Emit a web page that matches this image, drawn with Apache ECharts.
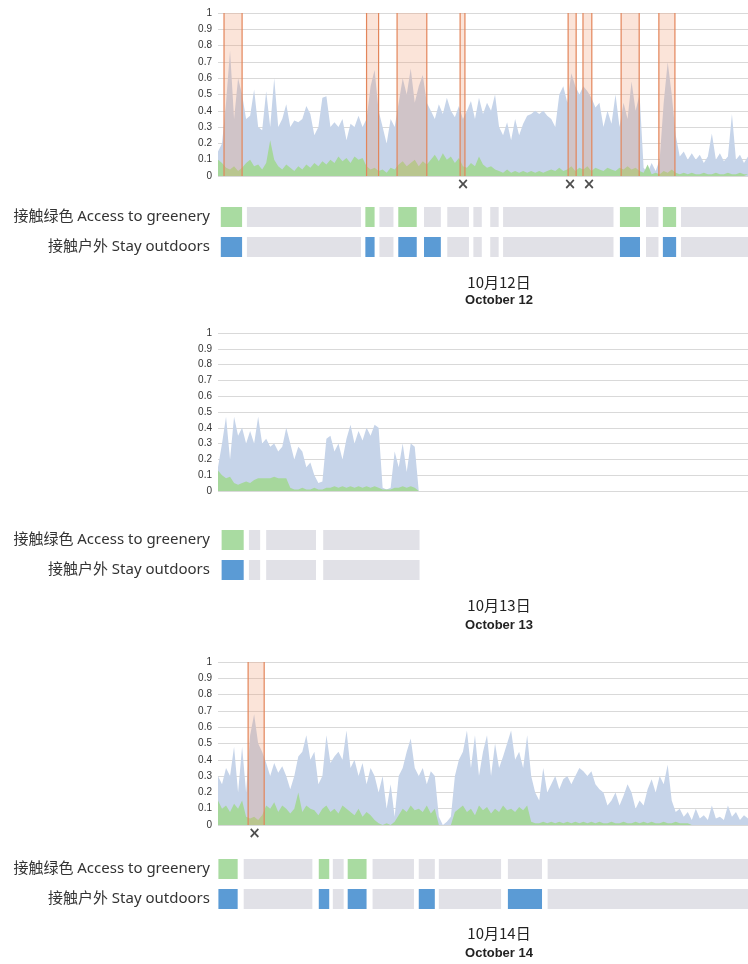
<!DOCTYPE html>
<html><head><meta charset="utf-8">
<script src="https://cdn.jsdelivr.net/npm/echarts@6/dist/echarts.min.js"></script>
<style>html,body{margin:0;padding:0;background:#fff}#c{width:748px;height:964px}</style>
</head><body><div id="c"></div>
<script>
// ---- data (x unit = time step index) ----
const yTicks = [0,0.1,0.2,0.3,0.4,0.5,0.6,0.7,0.8,0.9,1];
const rowLabels = ['接触绿色 Access to greenery','接触户外 Stay outdoors'];
const titlesCN = ['10月12日','10月13日','10月14日'];
const titlesEN = ['October 12','October 13','October 14'];

const day12Blue = [0.15,0.2,0.45,0.77,0.35,0.6,0.5,0.35,0.37,0.53,
 0.3,0.28,0.52,0.3,0.6,0.3,0.35,0.44,0.3,0.34,
 0.33,0.35,0.43,0.38,0.25,0.3,0.48,0.49,0.3,0.33,
 0.3,0.35,0.22,0.32,0.3,0.37,0.3,0.35,0.55,0.65,
 0.4,0.3,0.2,0.35,0.3,0.45,0.6,0.5,0.66,0.45,
 0.55,0.62,0.45,0.4,0.35,0.44,0.38,0.48,0.4,0.36,
 0.43,0.35,0.4,0.46,0.35,0.48,0.38,0.45,0.4,0.5,
 0.3,0.25,0.33,0.22,0.35,0.25,0.32,0.37,0.38,0.4,
 0.38,0.4,0.37,0.35,0.3,0.5,0.55,0.45,0.63,0.55,
 0.5,0.55,0.52,0.48,0.42,0.45,0.3,0.4,0.32,0.5,
 0.3,0.45,0.35,0.58,0.4,0.5,0.05,0.02,0.08,0.03,
 0.1,0.45,0.7,0.5,0.25,0.12,0.15,0.1,0.14,0.1,
 0.13,0.08,0.12,0.26,0.1,0.14,0.09,0.12,0.38,0.1,
 0.13,0.08,0.12];
const day12Green = [0.1,0.08,0.05,0.04,0.06,0.03,0.05,0.08,0.1,0.06,
 0.07,0.04,0.08,0.22,0.1,0.06,0.04,0.07,0.05,0.03,
 0.06,0.04,0.07,0.05,0.08,0.06,0.09,0.07,0.1,0.08,
 0.12,0.09,0.11,0.08,0.12,0.1,0.11,0.06,0.04,0.05,
 0.03,0.04,0.02,0.05,0.04,0.07,0.09,0.06,0.08,0.1,
 0.06,0.09,0.07,0.1,0.13,0.09,0.14,0.1,0.12,0.08,
 0.11,0.06,0.05,0.08,0.06,0.12,0.07,0.05,0.06,0.04,
 0.03,0.02,0.04,0.02,0.03,0.02,0.03,0.02,0.03,0.02,
 0.03,0.02,0.03,0.04,0.03,0.05,0.03,0.04,0.06,0.03,
 0.05,0.04,0.06,0.03,0.05,0.04,0.03,0.05,0.04,0.03,
 0.05,0.04,0.06,0.04,0.05,0.03,0.02,0.07,0.01,0.02,
 0.01,0.03,0.02,0.04,0.02,0.01,0.02,0.01,0.02,0.01,
 0.01,0.02,0.01,0.01,0.02,0.01,0.01,0.02,0.01,0.01,
 0.02,0.01,0.01];
const day13Blue = [0.15,0.3,0.47,0.2,0.47,0.35,0.4,0.3,0.38,0.3,
 0.47,0.3,0.33,0.28,0.3,0.25,0.28,0.4,0.3,0.2,
 0.28,0.25,0.15,0.18,0.1,0.05,0.06,0.33,0.35,0.25,
 0.3,0.2,0.33,0.42,0.3,0.38,0.32,0.4,0.35,0.42,
 0.4,0.02,0.01,0.02,0.25,0.15,0.3,0.12,0.3,0.28,
 0];
const day13Green = [0.13,0.1,0.08,0.09,0.05,0.04,0.05,0.06,0.05,0.07,
 0.08,0.08,0.08,0.08,0.09,0.08,0.08,0.08,0.02,0.01,
 0.01,0.02,0.01,0.01,0.02,0.01,0.01,0.02,0.02,0.03,
 0.02,0.03,0.02,0.03,0.02,0.03,0.02,0.03,0.02,0.03,
 0.02,0.01,0.01,0.01,0.02,0.02,0.03,0.02,0.03,0.02,
 0];
const day14Blue = [0.3,0.25,0.35,0.3,0.48,0.2,0.48,0.2,0.55,0.68,
 0.5,0.45,0.38,0.3,0.38,0.32,0.36,0.3,0.22,0.3,
 0.42,0.45,0.55,0.4,0.45,0.25,0.3,0.55,0.38,0.42,
 0.45,0.4,0.58,0.35,0.4,0.3,0.38,0.25,0.35,0.3,
 0.2,0.3,0.1,0.25,0.05,0.3,0.35,0.45,0.53,0.35,
 0.3,0.35,0.25,0.33,0.3,0.05,0,0.02,0.05,0.3,
 0.4,0.45,0.58,0.35,0.55,0.3,0.45,0.55,0.3,0.5,
 0.35,0.42,0.5,0.58,0.4,0.45,0.35,0.55,0.3,0.2,
 0.15,0.35,0.2,0.25,0.3,0.22,0.28,0.3,0.25,0.3,
 0.35,0.33,0.3,0.33,0.25,0.22,0.2,0.12,0.15,0.2,
 0.12,0.18,0.25,0.2,0.1,0.15,0.12,0.22,0.28,0.2,
 0.3,0.25,0.37,0.15,0.08,0.1,0.05,0.08,0.03,0.1,
 0.04,0.06,0.03,0.12,0.04,0.05,0.03,0.12,0.05,0.08,
 0.03,0.06,0.04];
const day14Green = [0.15,0.1,0.12,0.08,0.13,0.1,0.15,0.05,0.04,0.05,
 0.03,0.06,0.12,0.1,0.14,0.08,0.12,0.1,0.07,0.1,
 0.2,0.08,0.12,0.1,0.09,0.06,0.1,0.12,0.08,0.1,
 0.07,0.12,0.1,0.08,0.06,0.1,0.05,0.08,0.06,0.03,
 0.01,0,0.01,0,0.02,0.06,0.1,0.08,0.12,0.09,
 0.1,0.08,0.12,0.07,0.1,0,0,0,0,0.08,
 0.1,0.12,0.08,0.1,0.06,0.12,0.09,0.11,0.07,0.1,
 0.08,0.12,0.09,0.1,0.08,0.11,0.09,0.12,0.02,0.01,
 0.01,0.02,0.01,0.02,0.01,0.02,0.01,0.02,0.01,0.02,
 0.01,0.02,0.01,0.02,0.01,0.02,0.01,0.01,0.02,0.01,
 0.01,0.02,0.01,0.01,0.02,0.01,0.02,0.01,0.02,0.01,
 0.01,0.02,0.01,0.01,0.02,0.01,0.01,0.01,0,0,
 0,0,0,0,0,0,0,0,0,0,
 0,0,0];

// highlighted periods [start, end]
const day12Bands = [[1.5,6],[37,40],[44.6,52],[60.3,61.5],[87.2,89.2],[90.9,93.1],[100.4,104.9],[109.8,113.8]];
const day13Bands = [];
const day14Bands = [[7.5,11.5]];
// × markers (x position)
const day12Marks = [61,87.7,92.4];
const day13Marks = [];
const day14Marks = [9.1];

// segments [start, end, state] state: 0 none, 1 greenery, 2 outdoors
const day12Greenery = [[0.7,6,1],[7.2,35.6,0],[36.7,39,1],[40.2,43.7,0],[44.9,49.5,1],[51.3,55.5,0],[57.1,62.5,0],[63.6,65.7,0],[67.8,69.9,0],[71,98.5,0],[100.1,105.1,1],[106.6,109.7,0],[110.8,114.1,1],[115.3,132,0]];
const day12Outdoors = [[0.7,6,2],[7.2,35.6,0],[36.7,39,2],[40.2,43.7,0],[44.9,49.5,2],[51.3,55.5,2],[57.1,62.5,0],[63.6,65.7,0],[67.8,69.9,0],[71,98.5,0],[100.1,105.1,2],[106.6,109.7,0],[110.8,114.1,2],[115.3,132,0]];
const day13Greenery = [[0.9,6.4,1],[7.7,10.5,0],[12,24.4,0],[26.2,50.2,0]];
const day13Outdoors = [[0.9,6.4,2],[7.7,10.5,0],[12,24.4,0],[26.2,50.2,0]];
const day14Greenery = [[0.1,4.9,1],[6.4,23.5,0],[25.1,27.7,1],[28.6,31.3,0],[32.3,37,1],[38.5,48.8,0],[50,54,0],[55,70.5,0],[72.2,80.7,0],[82.1,132,0]];
const day14Outdoors = [[0.1,4.9,2],[6.4,23.5,0],[25.1,27.7,2],[28.6,31.3,0],[32.3,37,2],[38.5,48.8,0],[50,54,2],[55,70.5,0],[72.2,80.7,2],[82.1,132,0]];

// ---- build ----
const XMAX = 132;
const panels = [
  {blue:day12Blue, green:day12Green, bands:day12Bands, marks:day12Marks, g:day12Greenery, o:day12Outdoors, top:13, h:163, rowTop:202, t1:282, t2:300},
  {blue:day13Blue, green:day13Green, bands:day13Bands, marks:day13Marks, g:day13Greenery, o:day13Outdoors, top:333, h:158, rowTop:525, t1:605, t2:625},
  {blue:day14Blue, green:day14Green, bands:day14Bands, marks:day14Marks, g:day14Greenery, o:day14Outdoors, top:662, h:163, rowTop:854, t1:933, t2:953}
];
const segColors = ['#e1e1e7','#a9dba1','#5b9bd5'];
const grid=[], xAxis=[], yAxis=[], series=[], graphic=[];
const font = "'Noto Sans','Noto Sans CJK SC',sans-serif";

panels.forEach((p, k) => {
  const ai = k*2, ri = k*2+1;
  grid.push({left:218, width:530, top:p.top, height:p.h});
  grid.push({left:218, width:530, top:p.rowTop, height:60});
  xAxis.push({gridIndex:ai, type:'value', min:0, max:XMAX, show:false});
  xAxis.push({gridIndex:ri, type:'value', min:0, max:XMAX, show:false});
  yAxis.push({gridIndex:ai, type:'value', min:0, max:1, interval:0.1,
    axisLine:{show:false}, axisTick:{show:false},
    axisLabel:{color:'#333', fontSize:10, margin:6, fontFamily:'Liberation Sans, Arial, sans-serif',
      formatter:v=>String(+v.toFixed(1))},
    splitLine:{lineStyle:{color:'#d9d9d9', width:1}}});
  yAxis.push({gridIndex:ri, type:'category', inverse:true, data:rowLabels,
    axisLine:{show:false}, axisTick:{show:false}, splitLine:{show:false},
    axisLabel:{color:'#333', fontSize:15, margin:8, fontFamily:font}});

  series.push({type:'line', xAxisIndex:ai, yAxisIndex:ai, data:p.blue.map((v,i)=>[i,v]),
    showSymbol:false, symbol:'none', lineStyle:{width:0}, areaStyle:{color:'#c6d4e9', opacity:1}, z:2, silent:true});
  series.push({type:'line', xAxisIndex:ai, yAxisIndex:ai, data:p.green.map((v,i)=>[i,v]),
    showSymbol:false, symbol:'none', lineStyle:{width:0}, areaStyle:{color:'#a6d79c', opacity:1}, z:3, silent:true});
  series.push({type:'custom', xAxisIndex:ai, yAxisIndex:ai, data:p.bands, z:5, silent:true,
    encode:{x:[0,1]},
    renderItem:(params, api)=>{
      const a = api.coord([api.value(0), 1]), b = api.coord([api.value(1), 0]);
      return {type:'group', children:[
        {type:'rect', shape:{x:a[0], y:a[1], width:b[0]-a[0], height:b[1]-a[1]}, style:{fill:'rgba(240,150,110,0.26)'}},
        {type:'line', shape:{x1:a[0], y1:a[1], x2:a[0], y2:b[1]}, style:{stroke:'#e3855a', lineWidth:1.2}},
        {type:'line', shape:{x1:b[0], y1:a[1], x2:b[0], y2:b[1]}, style:{stroke:'#e3855a', lineWidth:1.2}}
      ]};
    }});
  series.push({type:'scatter', xAxisIndex:ai, yAxisIndex:ai, data:p.marks.map(x=>[x,0]), clip:false,
    symbolSize:1, itemStyle:{color:'rgba(0,0,0,0)'}, z:6, silent:true,
    label:{show:true, position:'inside', offset:[0,9], formatter:'×', fontSize:15, fontWeight:'bold', color:'#222', fontFamily:'DejaVu Sans'}});
  const segs = p.g.map(s=>[s[0],s[1],0,s[2]]).concat(p.o.map(s=>[s[0],s[1],1,s[2]]));
  series.push({type:'custom', xAxisIndex:ri, yAxisIndex:ri, data:segs, silent:true,
    encode:{x:[0,1], y:2},
    renderItem:(params, api)=>{
      const a = api.coord([api.value(0), api.value(2)]), b = api.coord([api.value(1), api.value(2)]);
      return {type:'rect', shape:{x:a[0], y:a[1]-10, width:b[0]-a[0], height:20}, style:{fill:segColors[api.value(3)]}};
    }});
  graphic.push({type:'text', x:499, y:p.t1, style:{text:titlesCN[k], fill:'#222', font:"15px 'Noto Sans CJK SC', sans-serif", textAlign:'center', textVerticalAlign:'middle'}});
  graphic.push({type:'text', x:499, y:p.t2, style:{text:titlesEN[k], fill:'#222', font:"bold 13px 'Liberation Sans', Arial, sans-serif", textAlign:'center', textVerticalAlign:'middle'}});
});

const chart = echarts.init(document.getElementById('c'), null, {renderer:'canvas'});
chart.setOption({animation:false, backgroundColor:'#fff', grid, xAxis, yAxis, series, graphic});
</script>
</body></html>
